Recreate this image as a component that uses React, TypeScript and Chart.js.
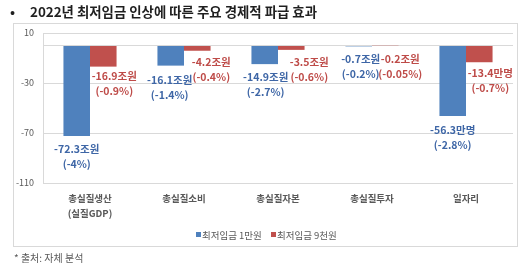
import React, { useEffect, useRef } from "react";
import { Chart, registerables } from "chart.js";

Chart.register(...registerables);

const title = "2022년 최저임금 인상에 따른 주요 경제적 파급 효과";
const footnote = "* 출처: 자체 분석";
const categories: (string | string[])[] = [["총실질생산", "(실질GDP)"], "총실질소비", "총실질자본", "총실질투자", "일자리"];
const seriesNames = ["최저임금 1만원", "최저임금 9천원"];
const wage10k = [-72.3, -16.1, -14.9, -0.7, -56.3];
const wage9k = [-16.9, -4.2, -3.5, -0.2, -13.4];
const wage10kLabels = [
  ["-72.3조원", "(-4%)"],
  ["-16.1조원", "(-1.4%)"],
  ["-14.9조원", "(-2.7%)"],
  ["-0.7조원", "(-0.2%)"],
  ["-56.3만명", "(-2.8%)"],
];
const wage9kLabels = [
  ["-16.9조원", "(-0.9%)"],
  ["-4.2조원", "(-0.4%)"],
  ["-3.5조원", "(-0.6%)"],
  ["-0.2조원", "(-0.05%)"],
  ["-13.4만명", "(-0.7%)"],
];
const yTicks = [10, 0, -30, -70, -110];

// style constants
const FONT = "'Noto Sans CJK KR', 'Noto Sans', sans-serif";
const BLUE = "#4F81BD";
const RED = "#C0504D";
const BLUE_TEXT = "#3E66A6";
const RED_TEXT = "#BE4B48";
const GREY_TEXT = "#595959";
const RED_LABEL_DX = [11, 14, 18, 15, 11];
const RED_LABEL_DY = [9.5, 11, 12, 13, 10.5];
const BLUE_LABEL_DX = [0, -1, 1, 2, 0];
const BLUE_LABEL_DY = [13, 14, 13, 12.5, 14];

const decorPlugin = {
  id: "decor",
  beforeDraw(chart: any) {
    const ctx = chart.ctx;
    ctx.save();
    ctx.fillStyle = "#ffffff";
    ctx.fillRect(0, 0, chart.width, chart.height);
    ctx.strokeStyle = "#d9d9d9";
    ctx.lineWidth = 1;
    ctx.strokeRect(13.5, 23.5, 504, 223);
    ctx.restore();
  },
  afterDraw(chart: any) {
    const ctx = chart.ctx;
    ctx.save();
    // title
    ctx.fillStyle = "#1f1f1f";
    ctx.textBaseline = "middle";
    ctx.textAlign = "left";
    ctx.font = `bold 13.4px ${FONT}`;
    ctx.fillText("•", 10, 12);
    ctx.fillText(title, 30, 12);
    // footnote
    ctx.fillStyle = GREY_TEXT;
    ctx.font = `10px ${FONT}`;
    ctx.fillText(footnote, 14, 258);
    // legend
    const colors = [BLUE, RED];
    const legendX = [196, 271];
    ctx.font = `9.5px ${FONT}`;
    seriesNames.forEach((n, i) => {
      ctx.fillStyle = colors[i];
      ctx.fillRect(legendX[i], 232, 5, 5);
      ctx.fillStyle = GREY_TEXT;
      ctx.fillText(n, legendX[i] + 6, 235);
    });
    // data labels
    ctx.textAlign = "center";
    ctx.font = `bold 10.5px ${FONT}`;
    const sets = [
      { labels: wage10kLabels, color: BLUE_TEXT, dx: BLUE_LABEL_DX, dy: BLUE_LABEL_DY },
      { labels: wage9kLabels, color: RED_TEXT, dx: RED_LABEL_DX, dy: RED_LABEL_DY },
    ];
    sets.forEach((s, di) => {
      const meta = chart.getDatasetMeta(di);
      meta.data.forEach((bar: any, i: number) => {
        const x = bar.x + s.dx[i];
        const y = bar.y + s.dy[i];
        ctx.fillStyle = s.color;
        s.labels[i].forEach((t: string, li: number) => ctx.fillText(t, x, y + li * 15));
      });
    });
    ctx.restore();
  },
};

export default function App() {
  const ref = useRef<HTMLCanvasElement | null>(null);
  useEffect(() => {
    if (!ref.current) return;
    const chart = new Chart(ref.current, {
      type: "bar",
      data: {
        labels: categories,
        datasets: [
          { label: seriesNames[0], data: wage10k, backgroundColor: BLUE, categoryPercentage: 0.565, barPercentage: 1 },
          { label: seriesNames[1], data: wage9k, backgroundColor: RED, categoryPercentage: 0.565, barPercentage: 1 },
        ],
      },
      options: {
        responsive: false,
        animation: false,
        layout: { padding: { left: 13, top: 33, right: 17, bottom: 32 } },
        plugins: { legend: { display: false }, tooltip: { enabled: false }, title: { display: false } },
        scales: {
          x: {
            grid: { display: false, drawTicks: false },
            border: { display: false },
            ticks: {
              color: GREY_TEXT,
              padding: 8,
              maxRotation: 0,
              font: { family: FONT, size: 9.5, weight: "bold", lineHeight: 1.6 },
            },
            afterFit: (s: any) => { s.height = 50; },
          },
          y: {
            min: -110,
            max: 10,
            afterBuildTicks: (s: any) => { s.ticks = yTicks.map((v) => ({ value: v })); },
            grid: { color: "#d9d9d9", drawTicks: false },
            border: { display: true, color: "#d9d9d9" },
            ticks: {
              color: GREY_TEXT,
              padding: 9,
              font: { family: FONT, size: 9 },
              callback: (v: any) => (v === 0 ? "" : String(v)),
            },
            afterFit: (s: any) => { s.width = 30; },
          },
        },
      },
      plugins: [decorPlugin],
    });
    return () => chart.destroy();
  }, []);
  return (
    <div style={{ position: "absolute", left: 0, top: 0, width: 530, height: 265 }}>
      <canvas ref={ref} width={530} height={265} style={{ display: "block", width: 530, height: 265 }} />
    </div>
  );
}
